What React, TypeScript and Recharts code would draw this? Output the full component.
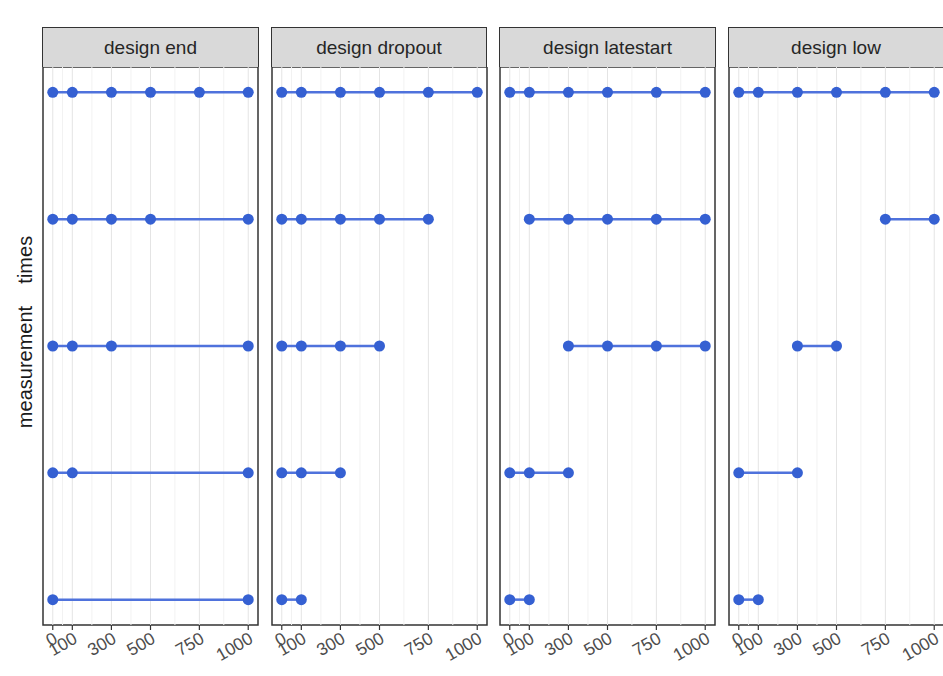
import { ReferenceArea, ReferenceLine, Scatter, ScatterChart, XAxis, YAxis } from 'recharts';

const designs = ['design end', 'design dropout', 'design latestart', 'design low'];
const xTicks = [0, 100, 300, 500, 750, 1000];
const minorBreaks = [50, 200, 400, 625, 875];

// measurement times for each row, top row first
const endRows = [
  [0, 100, 300, 500, 750, 1000],
  [0, 100, 300, 500, 1000],
  [0, 100, 300, 1000],
  [0, 100, 1000],
  [0, 1000],
];
const dropoutRows = [
  [0, 100, 300, 500, 750, 1000],
  [0, 100, 300, 500, 750],
  [0, 100, 300, 500],
  [0, 100, 300],
  [0, 100],
];
const latestartRows = [
  [0, 100, 300, 500, 750, 1000],
  [100, 300, 500, 750, 1000],
  [300, 500, 750, 1000],
  [0, 100, 300],
  [0, 100],
];
const lowRows = [
  [0, 100, 300, 500, 750, 1000],
  [750, 1000],
  [300, 500],
  [0, 300],
  [0, 100],
];
const rowsByDesign = [endRows, dropoutRows, latestartRows, lowRows];

const FONT = '"Liberation Sans", Arial, Helvetica, sans-serif';
const BLUE = '#3560D2';
const PANEL_W = 215;
const PANEL_H = 558;
const PANEL_TOP = 67;
const STRIP_TOP = 27;
const FIRST_LEFT = 43;
const STRIDE = 228.5;
const PAD = 24;
const AXIS_H = 60;

function AngledTick(props: any) {
  const { x, y, payload } = props;
  const ax = x + 6;
  const ay = y + 12;
  return (
    <text
      x={ax}
      y={ay}
      transform={`rotate(-30 ${ax} ${ay})`}
      textAnchor="end"
      fill="#4d4d4d"
      fontSize={17.5}
      fontFamily={FONT}
    >
      {payload.value}
    </text>
  );
}

function Dot(props: any) {
  return <circle cx={props.cx} cy={props.cy} r={5.5} fill={BLUE} />;
}

function Panel({ title, rows, left }: { title: string; rows: number[][]; left: number }) {
  return (
    <div style={{ position: 'absolute', left: left - PAD, top: STRIP_TOP, width: PANEL_W + 2 * PAD }}>
      <div
        style={{
          marginLeft: PAD - 0.75,
          width: PANEL_W + 1.5,
          height: PANEL_TOP - STRIP_TOP,
          boxSizing: 'border-box',
          border: '1.5px solid #333',
          borderBottom: 'none',
          background: '#d9d9d9',
          display: 'flex',
          alignItems: 'center',
          justifyContent: 'center',
          fontFamily: FONT,
          fontSize: 19,
          color: '#262626',
        }}
      >
        {title}
      </div>
      <ScatterChart
        width={PANEL_W + 2 * PAD}
        height={PANEL_H + AXIS_H}
        margin={{ top: 0, right: PAD, bottom: 0, left: PAD }}
      >
        <XAxis
          type="number"
          dataKey="x"
          domain={[-50, 1050]}
          ticks={xTicks}
          interval={0}
          allowDataOverflow
          axisLine={false}
          tickLine={{ stroke: '#333', strokeWidth: 1.2 }}
          tickSize={5}
          tickMargin={0}
          height={AXIS_H}
          tick={<AngledTick />}
        />
        <YAxis type="number" dataKey="y" domain={[0.8, 5.2]} reversed hide />
        {minorBreaks.map((v) => (
          <ReferenceLine key={`m${v}`} x={v} stroke="#f2f2f2" strokeWidth={1} />
        ))}
        {xTicks.map((v) => (
          <ReferenceLine key={`g${v}`} x={v} stroke="#e4e4e4" strokeWidth={1} />
        ))}
        {rows.map((times, i) => (
          <Scatter
            key={i}
            data={times.map((t) => ({ x: t, y: i + 1 }))}
            fill={BLUE}
            line={{ stroke: '#4f72dc', strokeWidth: 2.5 }}
            shape={<Dot />}
            isAnimationActive={false}
          />
        ))}
        <ReferenceArea x1={-50} x2={1050} y1={0.8} y2={5.2} fill="none" stroke="#333" strokeWidth={1.5} />
      </ScatterChart>
    </div>
  );
}

export default function App() {
  return (
    <div style={{ position: 'absolute', left: 0, top: 0, width: 943, height: 676, background: '#fff', overflow: 'hidden' }}>
      <svg width={50} height={676} style={{ position: 'absolute', left: 0, top: 0 }}>
        <text
          transform="translate(32 332) rotate(-90)"
          textAnchor="middle"
          fontFamily={FONT}
          fontSize={20}
          fill="#1a1a1a"
          style={{ whiteSpace: 'pre' }}
        >
          {'measurement    times'}
        </text>
      </svg>
      {designs.map((d, i) => (
        <Panel key={d} title={d} rows={rowsByDesign[i]} left={FIRST_LEFT + i * STRIDE} />
      ))}
    </div>
  );
}
